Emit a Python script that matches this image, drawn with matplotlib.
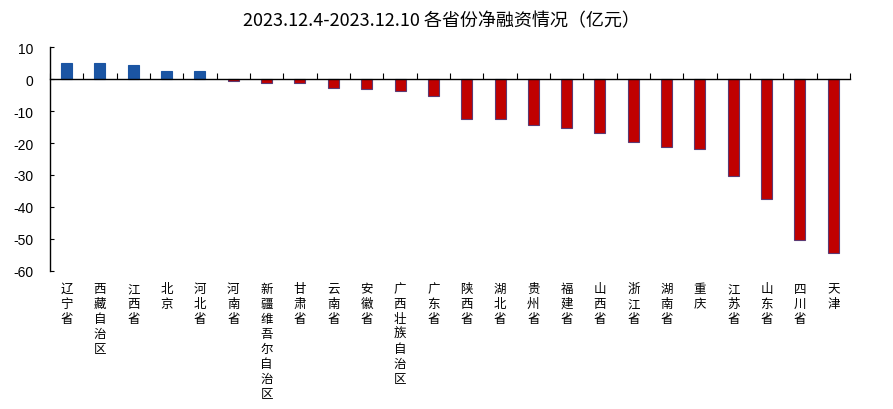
import numpy as np
import matplotlib
matplotlib.use("Agg")
import matplotlib.pyplot as plt
import matplotlib.transforms as mtransforms

plt.rcParams['font.family'] = ['Noto Sans CJK SC', 'DejaVu Sans']

provinces = ["辽宁省", "西藏自治区", "江西省", "北京", "河北省", "河南省",
             "新疆维吾尔自治区", "甘肃省", "云南省", "安徽省", "广西壮族自治区", "广东省",
             "陕西省", "湖北省", "贵州省", "福建省", "山西省", "浙江省",
             "湖南省", "重庆", "江苏省", "山东省", "四川省", "天津"]
net_financing = [5.1, 5.1, 4.5, 2.6, 2.6, -0.5, -1.1, -1.4, -2.7, -3.0, -3.6, -5.2,
                 -12.6, -12.6, -14.3, -15.2, -16.8, -19.6, -21.1, -21.8, -30.2, -37.4, -50.2, -54.3]
yticks = [10, 0, -10, -20, -30, -40, -50, -60]
title = "2023.12.4-2023.12.10 各省份净融资情况（亿元）"

blue = "#1B55A3"
red = "#C00000"

fig = plt.figure(figsize=(8.93, 4.10), dpi=100)
ax = fig.add_axes([50 / 893, 1 - 272 / 410, 800 / 893, 224 / 410])

x = np.arange(len(provinces))
vals = np.array(net_financing)
colors = [blue if v >= 0 else red for v in vals]
edges = [blue if v >= 0 else "#5B3A73" for v in vals]
ax.bar(x, vals, width=0.33, color=colors, edgecolor=edges, linewidth=0.8, zorder=2)

ax.set_xlim(-0.5, len(provinces) - 0.5)
ax.set_ylim(-60, 10)
ax.set_yticks(yticks)
ax.set_yticklabels([str(t) for t in yticks], family=['Liberation Sans'], fontsize=10)
ax.tick_params(axis='y', direction='in', length=3, width=0.8, pad=12)

ax.spines['top'].set_visible(False)
ax.spines['right'].set_visible(False)
ax.spines['bottom'].set_position(('data', 0))
ax.spines['left'].set_linewidth(1.0)
ax.spines['bottom'].set_linewidth(1.0)

ax.set_xticks(np.arange(-0.5, len(provinces), 1.0))
ax.set_xticklabels([])
ax.tick_params(axis='x', direction='in', length=4, width=0.8)

trans = mtransforms.blended_transform_factory(ax.transData, ax.transAxes)
for i, name in enumerate(provinces):
    ax.annotate("\n".join(name), xy=(i, 0), xycoords=trans,
                xytext=(0, -8), textcoords='offset points',
                ha='center', va='top', fontsize=9, linespacing=1.2)

fig.text(441 / 893, 1 - 21 / 410, title, ha='center', va='center', fontsize=13)

fig.savefig("out.png", dpi=100)
